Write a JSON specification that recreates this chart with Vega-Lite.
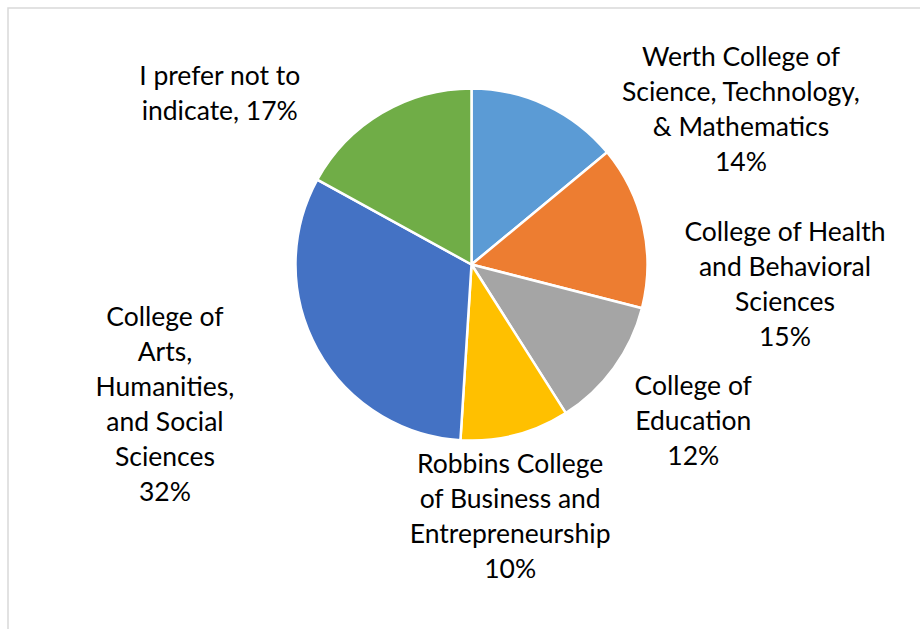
{
  "$schema": "https://vega.github.io/schema/vega-lite/v6.json",
  "width": 915,
  "height": 624,
  "autosize": {"type": "none"},
  "padding": {"left": 8, "top": 8, "right": -3, "bottom": -3},
  "background": "white",
  "view": {"stroke": "#d9d9d9", "strokeWidth": 1.5},
  "data": {
    "values": [
      {"college": "Werth College of Science, Technology, & Mathematics", "pct": 14, "order": 1, "label": "Werth College of\nScience, Technology,\n& Mathematics\n14%"},
      {"college": "College of Health and Behavioral Sciences", "pct": 15, "order": 2, "label": "College of Health\nand Behavioral\nSciences\n15%"},
      {"college": "College of Education", "pct": 12, "order": 3, "label": "College of\nEducation\n12%"},
      {"college": "Robbins College of Business and Entrepreneurship", "pct": 10, "order": 4, "label": "Robbins College\nof Business and\nEntrepreneurship\n10%"},
      {"college": "College of Arts, Humanities, and Social Sciences", "pct": 32, "order": 5, "label": "College of\nArts,\nHumanities,\nand Social\nSciences\n32%"},
      {"college": "I prefer not to indicate", "pct": 17, "order": 6, "label": "I prefer not to\nindicate, 17%"}
    ]
  },
  "encoding": {
    "theta": {"field": "pct", "type": "quantitative", "stack": true},
    "order": {"field": "order", "type": "quantitative"}
  },
  "layer": [
    {
      "mark": {"type": "arc", "outerRadius": 176, "stroke": "white", "strokeWidth": 2.5, "xOffset": 6, "yOffset": -55.5},
      "encoding": {
        "color": {
          "field": "college",
          "type": "nominal",
          "scale": {
            "domain": ["Werth College of Science, Technology, & Mathematics", "College of Health and Behavioral Sciences", "College of Education", "Robbins College of Business and Entrepreneurship", "College of Arts, Humanities, and Social Sciences", "I prefer not to indicate"],
            "range": ["#5B9BD5", "#ED7D31", "#A5A5A5", "#FFC000", "#4472C4", "#70AD47"]
          },
          "legend": null
        }
      }
    },
    {
      "mark": {"type": "text", "radius": 250, "dx": 169, "dy": -36, "font": "Lato", "fontSize": 26.5, "lineHeight": 35, "align": "center", "baseline": "middle", "lineBreak": "\n", "color": "#000000"},
      "encoding": {"text": {"condition": {"test": "datum.order == 1", "field": "label", "type": "nominal"}, "value": ""}}
    },
    {
      "mark": {"type": "text", "radius": 250, "dx": 75.5, "dy": -32, "font": "Lato", "fontSize": 26.5, "lineHeight": 35, "align": "center", "baseline": "middle", "lineBreak": "\n", "color": "#000000"},
      "encoding": {"text": {"condition": {"test": "datum.order == 2", "field": "label", "type": "nominal"}, "value": ""}}
    },
    {
      "mark": {"type": "text", "radius": 250, "dx": 25.5, "dy": -80, "font": "Lato", "fontSize": 26.5, "lineHeight": 35, "align": "center", "baseline": "middle", "lineBreak": "\n", "color": "#000000"},
      "encoding": {"text": {"condition": {"test": "datum.order == 3", "field": "label", "type": "nominal"}, "value": ""}}
    },
    {
      "mark": {"type": "text", "radius": 250, "dx": -17.5, "dy": -97, "font": "Lato", "fontSize": 26.5, "lineHeight": 35, "align": "center", "baseline": "middle", "lineBreak": "\n", "color": "#000000"},
      "encoding": {"text": {"condition": {"test": "datum.order == 4", "field": "label", "type": "nominal"}, "value": ""}}
    },
    {
      "mark": {"type": "text", "radius": 250, "dx": -81.5, "dy": -122, "font": "Lato", "fontSize": 26.5, "lineHeight": 35, "align": "center", "baseline": "middle", "lineBreak": "\n", "color": "#000000"},
      "encoding": {"text": {"condition": {"test": "datum.order == 5", "field": "label", "type": "nominal"}, "value": ""}}
    },
    {
      "mark": {"type": "text", "radius": 250, "dx": -118.5, "dy": -27.5, "font": "Lato", "fontSize": 26.5, "lineHeight": 35, "align": "center", "baseline": "middle", "lineBreak": "\n", "color": "#000000"},
      "encoding": {"text": {"condition": {"test": "datum.order == 6", "field": "label", "type": "nominal"}, "value": ""}}
    }
  ]
}
